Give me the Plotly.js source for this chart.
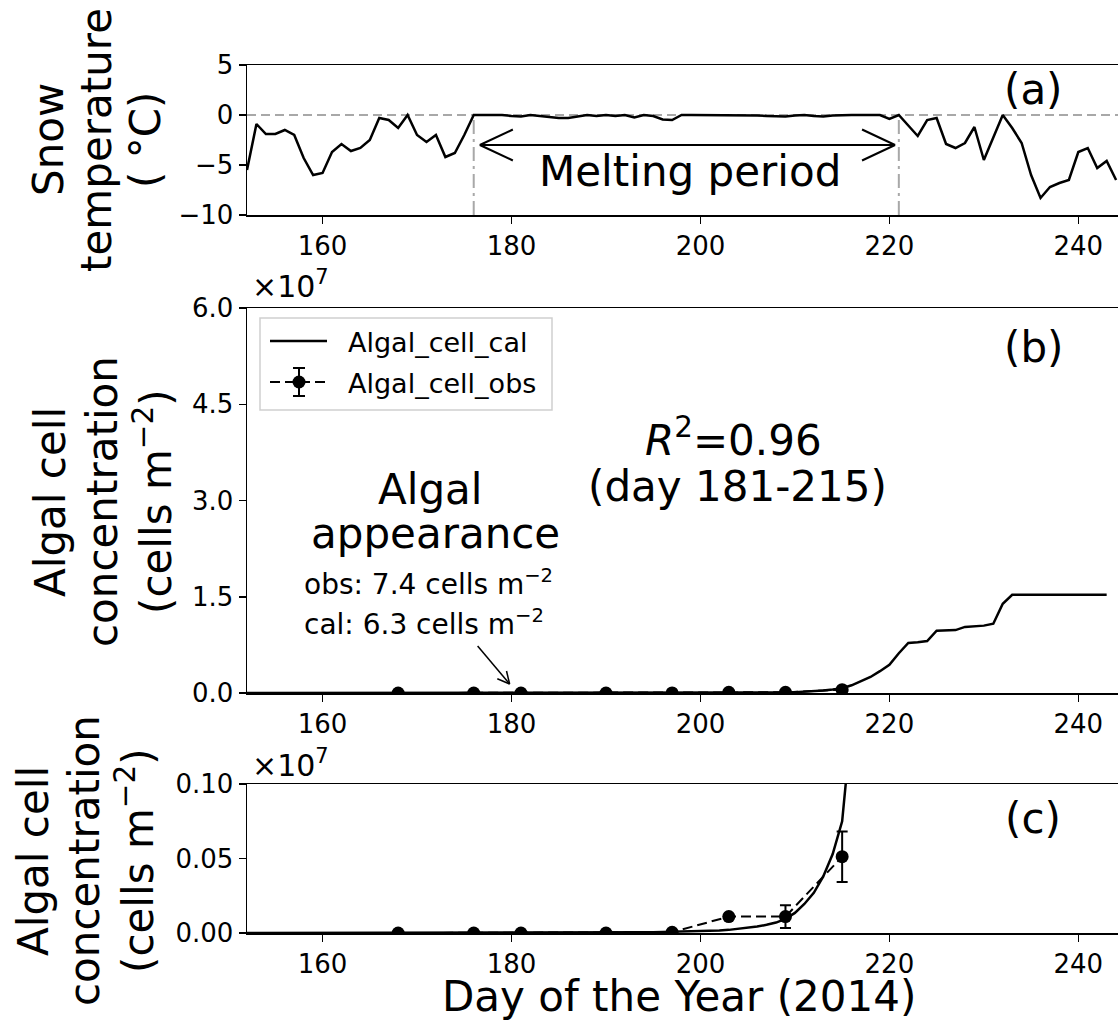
<!DOCTYPE html>
<html>
<head>
<meta charset="utf-8">
<script src="https://cdn.plot.ly/plotly-3.0.1.min.js"></script>
<style>html,body{margin:0;padding:0;background:#fff;}#chart{width:1118px;height:1021px;}</style>
</head>
<body>
<div id="chart"></div>
<script>
// ---------------- data ----------------
const tempDays = [152,153,154,155,156,157,158,159,160,161,162,163,164,165,166,167,168,169,170,171,172,173,174,175,176,177,178,179,180,181,182,183,184,185,186,187,188,189,190,191,192,193,194,195,196,197,198,199,200,201,202,203,204,205,206,207,208,209,210,211,212,213,214,215,216,217,218,219,220,221,222,223,224,225,226,227,228,229,230,231,232,233,234,235,236,237,238,239,240,241,242,243,244];
const snowTemp = [-5.5,-0.9,-1.9,-1.9,-1.5,-2.0,-4.3,-6.0,-5.8,-3.7,-2.9,-3.6,-3.3,-2.5,-0.3,-0.5,-1.3,0,-2.0,-2.7,-2.0,-4.2,-3.8,-2.0,0,0,0,0,-0.1,-0.15,0,-0.1,-0.25,-0.3,-0.3,-0.15,0,-0.1,0,-0.1,0,-0.25,0,-0.1,-0.45,-0.5,0,0,0,0,0,0,0,0,-0.05,-0.1,-0.1,-0.15,-0.05,0,-0.1,-0.15,-0.05,0,0,0,0,0,-0.4,0,-1.05,-2.1,-0.5,-0.3,-2.9,-3.3,-2.8,-1.2,-4.5,-2.3,0,-1.3,-2.8,-6.0,-8.3,-7.2,-6.8,-6.5,-3.7,-3.3,-5.3,-4.6,-6.5];

const calDays = [152,153,154,155,156,157,158,159,160,161,162,163,164,165,166,167,168,169,170,171,172,173,174,175,176,177,178,179,180,181,182,183,184,185,186,187,188,189,190,191,192,193,194,195,196,197,198,199,200,201,202,203,204,205,206,207,208,209,210,211,212,213,214,215,216,217,218,219,220,221,222,223,224,225,226,227,228,229,230,231,232,233,234,235,236,237,238,239,240,241,242,243];
const algalCal = [0,0,0,0,0,0,0,0,0,0,0,0,0,0,0,0,0,0,0,0,0,0,0,0,0,0,0,0,0,6.3,10,20,40,70,130,230,400,700,1200,1900,2800,3800,4800,5800,6800,7800,9000,10500,12000,14000,17000,21000,27000,34000,43000,55000,70000,95000,135000,195000,270000,380000,530000,750000,1200000,1800000,2500000,3400000,4400000,6200000,7800000,7900000,8100000,9700000,9800000,9800000,10300000,10400000,10500000,10800000,13900000,15300000,15300000,15300000,15300000,15300000,15300000,15300000,15300000,15300000,15300000,15300000];

const obsDays = [168,176,181,190,197,203,209,215];
const algalObs = [0,0,7.4,60,5000,110000,110000,512000];
const algalObsErr = [0,0,0,0,0,0,77000,170000];

const seriesNames = ['Algal_cell_cal', 'Algal_cell_obs'];
const meltStart = 176, meltEnd = 221;
const xTicks = [160,180,200,220,240];
const tempTicks = [-10,-5,0,5];
const tempTickText = ['\u221210','\u22125','0','5'];
const algTicksB = [0,1.5e7,3e7,4.5e7,6e7];
const algTickTextB = ['0.0','1.5','3.0','4.5','6.0'];
const algTicksC = [0,0.05e7,0.1e7];
const algTickTextC = ['0.00','0.05','0.10'];

// ---------------- layout helpers ----------------
const W = 1118, H = 1021, L = 247;
const FONT = 'DejaVu Sans';
const fx = px => (px - L) / (W - L);
const fy = py => (H - py) / H;

function axisBase(extra) {
  return Object.assign({
    showline: true, linecolor: 'black', linewidth: 1.5,
    ticks: 'outside', ticklen: 7, tickwidth: 1.5, tickcolor: 'black',
    showgrid: false, zeroline: false, automargin: false,
    tickfont: {family: FONT, size: 26, color: 'black'}
  }, extra);
}
function xAxis(anchor) {
  return axisBase({anchor: anchor, domain: [0, 1], range: [152, 244.2],
    tickmode: 'array', tickvals: xTicks, ticktext: xTicks.map(String), mirror: true});
}

function ann(text, px, py, size, extra) {
  return Object.assign({text: text, xref: 'paper', yref: 'paper', x: fx(px), y: fy(py),
    xanchor: 'center', yanchor: 'middle', showarrow: false,
    font: {family: FONT, size: size, color: 'black'}}, extra || {});
}
function vtitle(text, px, py) {
  return ann(text, px, py, 42, {textangle: -90});
}
function pline(x0, y0, x1, y1, width, dash) {
  return {type: 'line', xref: 'paper', yref: 'paper', x0: fx(x0), y0: fy(y0), x1: fx(x1), y1: fy(y1),
    line: {color: 'black', width: width, dash: dash || 'solid'}};
}

const obsErr = {type: 'data', array: algalObsErr, visible: true, color: 'black', thickness: 2, width: 5.5};
const traces = [
  {x: tempDays, y: snowTemp, xaxis: 'x', yaxis: 'y', type: 'scatter', mode: 'lines',
   line: {color: 'black', width: 2.5}, showlegend: false},
  {x: calDays, y: algalCal, xaxis: 'x2', yaxis: 'y2', type: 'scatter', mode: 'lines',
   name: seriesNames[0], line: {color: 'black', width: 2.5}, showlegend: false},
  {x: obsDays, y: algalObs, xaxis: 'x2', yaxis: 'y2', type: 'scatter', mode: 'lines+markers',
   name: seriesNames[1], line: {color: 'black', width: 2, dash: '10px,5px'},
   marker: {color: 'black', size: 13}, error_y: obsErr, showlegend: false},
  {x: calDays, y: algalCal, xaxis: 'x3', yaxis: 'y3', type: 'scatter', mode: 'lines',
   name: seriesNames[0], line: {color: 'black', width: 2.5}, showlegend: false},
  {x: obsDays, y: algalObs, xaxis: 'x3', yaxis: 'y3', type: 'scatter', mode: 'lines+markers',
   name: seriesNames[1], line: {color: 'black', width: 2, dash: '10px,5px'},
   marker: {color: 'black', size: 13}, error_y: obsErr, showlegend: false}
];

const gray = '#a8a8a8';
const shapes = [
  // zero line (a)
  {type: 'line', xref: 'x domain', yref: 'y', x0: 0, x1: 1, y0: 0, y1: 0, layer: 'below',
   line: {color: gray, width: 2, dash: '9px,5px'}},
  // melting start / end
  {type: 'line', xref: 'x', yref: 'y', x0: meltStart, x1: meltStart, y0: -10, y1: 0, layer: 'below',
   line: {color: gray, width: 2, dash: '14px,5px,3px,5px'}},
  {type: 'line', xref: 'x', yref: 'y', x0: meltEnd, x1: meltEnd, y0: -10, y1: 0, layer: 'below',
   line: {color: gray, width: 2, dash: '14px,5px,3px,5px'}},
  // double arrow
  {type: 'line', xref: 'x', yref: 'y', x0: meltStart + 0.65, x1: meltEnd - 0.4, y0: -3, y1: -3,
   line: {color: 'black', width: 2}},
  {type: 'line', xref: 'x', yref: 'y', xsizemode: 'pixel', ysizemode: 'pixel', xanchor: meltStart + 0.65, yanchor: -3,
   x0: 0, y0: 0, x1: 33, y1: 15.5, line: {color: 'black', width: 2}},
  {type: 'line', xref: 'x', yref: 'y', xsizemode: 'pixel', ysizemode: 'pixel', xanchor: meltStart + 0.65, yanchor: -3,
   x0: 0, y0: 0, x1: 33, y1: -15.5, line: {color: 'black', width: 2}},
  {type: 'line', xref: 'x', yref: 'y', xsizemode: 'pixel', ysizemode: 'pixel', xanchor: meltEnd - 0.4, yanchor: -3,
   x0: 0, y0: 0, x1: -33, y1: 15.5, line: {color: 'black', width: 2}},
  {type: 'line', xref: 'x', yref: 'y', xsizemode: 'pixel', ysizemode: 'pixel', xanchor: meltEnd - 0.4, yanchor: -3,
   x0: 0, y0: 0, x1: -33, y1: -15.5, line: {color: 'black', width: 2}},
  // small arrow in (b)
  {type: 'line', xref: 'x2', yref: 'y2', xsizemode: 'pixel', ysizemode: 'pixel', xanchor: 179.8, yanchor: 0.14e7,
   x0: -32, y0: 38, x1: 0, y1: 0, line: {color: 'black', width: 1.5}},
  {type: 'line', xref: 'x2', yref: 'y2', xsizemode: 'pixel', ysizemode: 'pixel', xanchor: 179.8, yanchor: 0.14e7,
   x0: 0, y0: 0, x1: -3.1, y1: 13, line: {color: 'black', width: 1.5}},
  {type: 'line', xref: 'x2', yref: 'y2', xsizemode: 'pixel', ysizemode: 'pixel', xanchor: 179.8, yanchor: 0.14e7,
   x0: 0, y0: 0, x1: -12.3, y1: 5.3, line: {color: 'black', width: 1.5}},
  // legend box (b)
  {type: 'rect', xref: 'paper', yref: 'paper', x0: fx(260), x1: fx(552), y0: fy(410), y1: fy(318),
   fillcolor: 'rgba(255,255,255,0.85)', line: {color: '#cfcfcf', width: 1.5}},
  pline(270, 341, 327, 341, 2.5),
  pline(270, 382, 327, 382, 2, '10px,5px'),
  pline(299, 368, 299, 396, 2),
  pline(293, 368, 305, 368, 2),
  pline(293, 396, 305, 396, 2),
  {type: 'circle', xref: 'paper', yref: 'paper', x0: fx(292.5), x1: fx(305.5), y0: fy(388.5), y1: fy(375.5),
   fillcolor: 'black', line: {color: 'black', width: 0}}
];

const annotations = [
  ann('(a)', 1033, 90, 42),
  ann('Melting period', 690, 172, 42),
  ann('(b)', 1033, 347, 42),
  ann('<i>R</i><sup>2</sup>=0.96', 733, 437, 42),
  ann('(day 181-215)', 737, 487, 42),
  ann('Algal', 430, 489, 42),
  ann('appearance', 435, 533, 42),
  ann('obs: 7.4 cells m<sup>\u22122</sup>', 302, 582, 28, {xanchor: 'left'}),
  ann('cal: 6.3 cells m<sup>\u22122</sup>', 302, 622, 28, {xanchor: 'left'}),
  ann(seriesNames[0], 346, 342, 27, {xanchor: 'left'}),
  ann(seriesNames[1], 346, 383, 27, {xanchor: 'left'}),
  ann('\u00d710<sup>7</sup>', 250, 284, 30, {xanchor: 'left'}),
  ann('(c)', 1033, 818, 42),
  ann('\u00d710<sup>7</sup>', 250, 763, 30, {xanchor: 'left'}),
  ann('Day of the Year (2014)', 679, 996, 42),
  vtitle('Snow', 48, 140), vtitle('temperature', 96, 140), vtitle('( \u00b0C)', 145, 140),
  vtitle('Algal cell', 50, 502), vtitle('concentration', 102, 502), vtitle('(cells m<sup>\u22122</sup>)', 153, 502),
  vtitle('Algal cell', 33, 861), vtitle('concentration', 84, 861), vtitle('(cells m<sup>\u22122</sup>)', 135, 861)
];

const layout = {
  width: W, height: H,
  margin: {l: L, r: 0, t: 0, b: 0, pad: 0},
  paper_bgcolor: 'white', plot_bgcolor: 'white',
  font: {family: FONT, color: 'black'},
  showlegend: false,
  xaxis: xAxis('y'),
  yaxis: axisBase({anchor: 'x', domain: [fy(215), fy(65)], range: [-10, 5],
    tickmode: 'array', tickvals: tempTicks, ticktext: tempTickText}),
  xaxis2: xAxis('y2'),
  yaxis2: axisBase({anchor: 'x2', domain: [fy(693), fy(308)], range: [0, 6e7],
    tickmode: 'array', tickvals: algTicksB, ticktext: algTickTextB}),
  xaxis3: xAxis('y3'),
  yaxis3: axisBase({anchor: 'x3', domain: [fy(933), fy(784)], range: [0, 0.1e7],
    tickmode: 'array', tickvals: algTicksC, ticktext: algTickTextC}),
  shapes: shapes,
  annotations: annotations
};

Plotly.newPlot('chart', traces, layout, {displayModeBar: false, staticPlot: true});
</script>
</body>
</html>
